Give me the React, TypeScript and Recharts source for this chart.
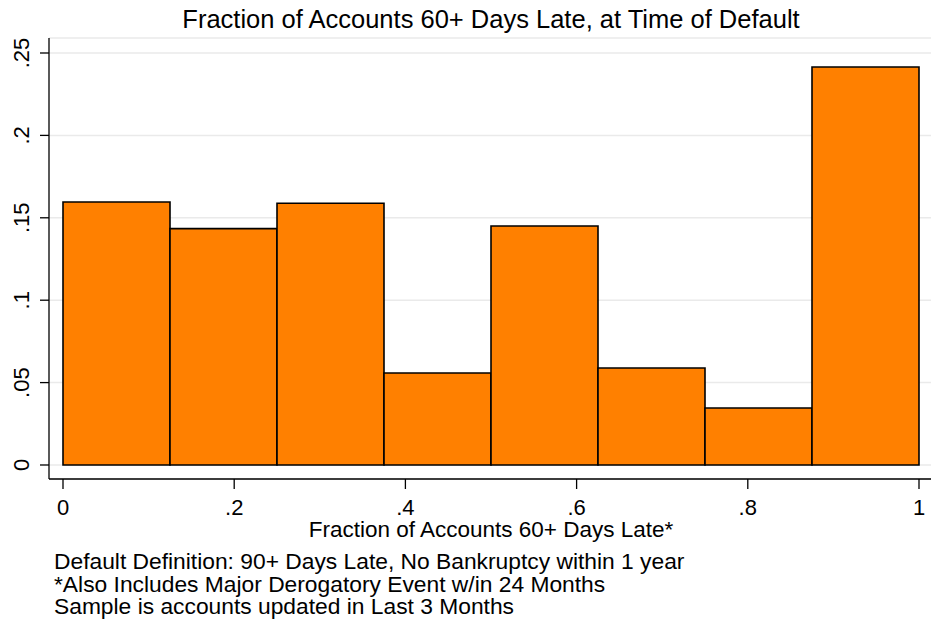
import { ComposedChart, Bar, XAxis, YAxis, CartesianGrid } from 'recharts'

// histogram bins (width .125) and their fractions
const binEdges = [0, 0.125, 0.25, 0.375, 0.5, 0.625, 0.75, 0.875, 1]
const fractions = [0.1596, 0.1434, 0.1588, 0.0558, 0.145, 0.0589, 0.0346, 0.2415]

const xTicks = [0, 0.2, 0.4, 0.6, 0.8, 1]
const yTicks = [0, 0.05, 0.1, 0.15, 0.2, 0.25]

const title = 'Fraction of Accounts 60+ Days Late, at Time of Default'
const xTitle = 'Fraction of Accounts 60+ Days Late*'
const notes = [
  'Default Definition: 90+ Days Late, No Bankruptcy within 1 year',
  '*Also Includes Major Derogatory Event w/in 24 Months',
  'Sample is accounts updated in Last 3 Months',
]

const data = fractions.map((frac, i) => ({
  bin: `${binEdges[i]}-${binEdges[i + 1]}`,
  mid: (binEdges[i] + binEdges[i + 1]) / 2,
  frac,
}))

const FONT = '"Liberation Sans", Arial, sans-serif'

// stata style labels: drop the leading zero
const stataFmt = (v: number) => (v === 0 ? '0' : v === 1 ? '1' : String(v).replace(/^0/, ''))

function YTick({ x, y, payload }: any) {
  return (
    <text
      x={x}
      y={y}
      transform={`rotate(-90, ${x}, ${y})`}
      textAnchor='middle'
      fontSize={22}
      fontFamily={FONT}
      fill='#000'
    >
      {stataFmt(payload.value)}
    </text>
  )
}

function XTick({ x, y, payload }: any) {
  return (
    <text x={x} y={y} textAnchor='middle' fontSize={22} fontFamily={FONT} fill='#000'>
      {stataFmt(payload.value)}
    </text>
  )
}

export default function App() {
  return (
    <div style={{ position: 'absolute', left: 0, top: 0, width: 931, height: 624, background: '#fff' }}>
      <ComposedChart
        width={931}
        height={624}
        data={data}
        margin={{ top: 38, right: 0, bottom: 105, left: 0 }}
        barCategoryGap={0}
        barGap={0}
      >
        <CartesianGrid
          xAxisId='num'
          horizontal
          vertical={false}
          stroke='#eaeaea'
          strokeWidth={1.5}
        />
        <XAxis
          xAxisId='cat'
          dataKey='bin'
          type='category'
          hide
          height={0}
          orientation='top'
          padding={{ left: 14, right: 12 }}
        />
        <XAxis
          xAxisId='num'
          dataKey='mid'
          type='number'
          domain={[-14 / 856, 1 + 12 / 856]}
          ticks={xTicks}
          allowDataOverflow
          height={40}
          tickSize={10}
          tickMargin={26}
          tick={<XTick />}
          axisLine={{ stroke: '#000', strokeWidth: 1.3 }}
          tickLine={{ stroke: '#000', strokeWidth: 1.3 }}
        />
        <YAxis
          type='number'
          domain={[-0.0085, 0.2591]}
          ticks={yTicks}
          allowDataOverflow
          width={49}
          tickSize={9}
          tickMargin={10.5}
          tick={<YTick />}
          axisLine={{ stroke: '#000', strokeWidth: 1.3 }}
          tickLine={{ stroke: '#000', strokeWidth: 1.3 }}
        />
        <Bar
          xAxisId='cat'
          dataKey='frac'
          fill='#ff8000'
          stroke='#000'
          strokeWidth={1.6}
          isAnimationActive={false}
        />
      </ComposedChart>
      <svg
        width={931}
        height={624}
        style={{ position: 'absolute', left: 0, top: 0, pointerEvents: 'none' }}
        fontFamily={FONT}
      >
        <text x={491} y={28} textAnchor='middle' fontSize={25.5} fill='#000'>
          {title}
        </text>
        <text x={491} y={537} textAnchor='middle' fontSize={22.5} fill='#000'>
          {xTitle}
        </text>
        {notes.map((n, i) => (
          <text key={i} x={54} y={569 + i * 22.5} fontSize={22.8} fill='#000'>
            {n}
          </text>
        ))}
      </svg>
    </div>
  )
}
